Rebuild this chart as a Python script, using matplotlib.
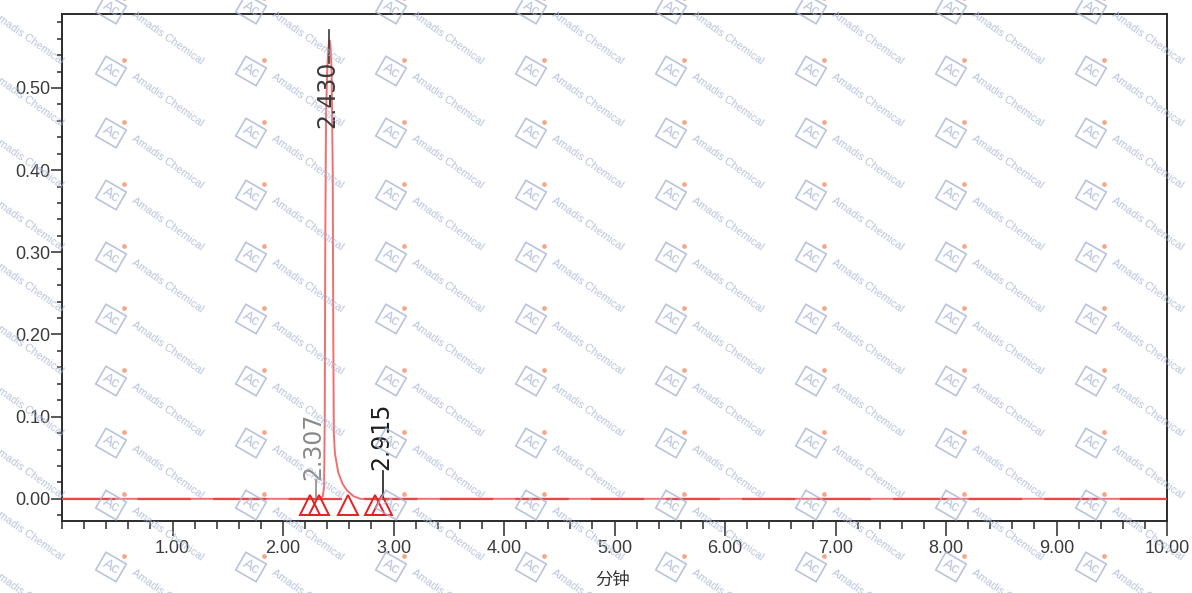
import matplotlib
matplotlib.use("Agg")
import matplotlib.pyplot as plt
from matplotlib.lines import Line2D
from matplotlib.ticker import MultipleLocator, FormatStrFormatter

## chromatogram trace (minutes, AU)
trace_t = [0.00, 2.30, 2.33, 2.36, 2.372, 2.378, 2.382, 2.39, 2.40, 2.41, 2.42,
           2.43, 2.44, 2.45, 2.455, 2.46, 2.47, 2.50, 2.54, 2.58, 2.64, 2.70, 10.00]
trace_v = [0.000, 0.000, 0.000, 0.003, 0.015, 0.100, 0.300, 0.470, 0.520, 0.548, 0.558,
           0.552, 0.520, 0.400, 0.200, 0.080, 0.055, 0.032, 0.018, 0.010, 0.003, 0.000, 0.000]

## integration markers
marker_t = [2.247, 2.322, 2.588, 2.835, 2.899]

## peak labels
peak_names = ["2.307", "2.430", "2.915"]
peak_colors = ["#8a8a8a", "#3a3a3a", "#1e1e1e"]

W, H = 1192, 593
fig = plt.figure(figsize=(W / 100, H / 100), dpi=100)
ax = fig.add_axes([62 / W, 1 - 521 / H, (1167 - 62) / W, (521 - 14) / H])

ax.plot(trace_t, trace_v, color="#f07070", lw=1.4, zorder=2)
ax.plot([0, 10], [0, 0], color="#e24a4a", lw=1.6, linestyle=(0, (24, 10)), zorder=3)
ax.plot(marker_t, [-0.0075] * len(marker_t), linestyle="none", marker="^", ms=15,
        mfc="none", mec="#e42020", mew=1.4, zorder=4)

# label placement: text bottom, line bottom, line top
lab_pos = {"2.307": (0.023, 0.002, 0.023), "2.430": (0.451, 0.530, 0.571),
           "2.915": (0.035, 0.002, 0.034)}
for name, col in zip(peak_names, peak_colors):
    rt = float(name)
    tb, l0, l1 = lab_pos[name]
    ax.text(rt - 0.03, tb, name, rotation=90, ha="center", va="bottom",
            fontsize=17, color=col, family="DejaVu Sans", zorder=5)
    ax.plot([rt - 0.01, rt - 0.01], [l0, l1], color=col, lw=1.2, zorder=5)

ax.set_xlim(0, 10)
ax.set_ylim(-0.027, 0.59)
ax.xaxis.set_major_locator(MultipleLocator(1))
ax.xaxis.set_minor_locator(MultipleLocator(0.2))
ax.yaxis.set_major_locator(MultipleLocator(0.1))
ax.yaxis.set_minor_locator(MultipleLocator(0.02))
ax.xaxis.set_major_formatter(FormatStrFormatter("%.2f"))
ax.yaxis.set_major_formatter(FormatStrFormatter("%.2f"))
ax.set_xticks([1, 2, 3, 4, 5, 6, 7, 8, 9, 10])

for s in ax.spines.values():
    s.set_linewidth(1.4)
    s.set_color("#2b2b2b")
ax.tick_params(axis="x", which="major", direction="out", length=10.5, width=1.1,
               pad=3.5, labelsize=13, labelcolor="#3a3a3a", color="#2b2b2b")
ax.tick_params(axis="x", which="minor", direction="out", length=5.8, width=1.1, color="#2b2b2b")
ax.tick_params(axis="y", which="major", direction="out", length=8, width=1.1,
               pad=0.5, labelsize=13, labelcolor="#3a3a3a", color="#2b2b2b")
ax.tick_params(axis="y", which="minor", direction="out", length=3.6, width=1.1, color="#2b2b2b")
for lab in ax.get_xticklabels() + ax.get_yticklabels():
    lab.set_family("Liberation Sans")

fig.text(613 / W, 1 - 580 / H, "分钟", ha="center", va="center", fontsize=12.5,
         family=["Noto Sans CJK SC", "DejaVu Sans"], color="#333333")
fig.text(-0.003, 1 - 260 / H, "AU", rotation=90, ha="center", va="center",
         fontsize=13, family="Liberation Sans", color="#444444")

## watermark grid
wm_col = "#a9b5d3"
for cx in range(-40, 1200, 140):
    for ry in range(-5, 600, 62):
        ix, iy = cx + 11, ry + 14
        fig.text(ix / W, 1 - iy / H, "Ac", rotation=-30, ha="center", va="center",
                 fontsize=10.5, color=wm_col, family="Liberation Sans", alpha=0.8,
                 bbox=dict(boxstyle="square,pad=0.22", fc="none", ec=wm_col, lw=1.2, alpha=0.8),
                 zorder=10)
        fig.add_artist(Line2D([(ix + 13) / W], [1 - (iy - 11) / H], marker="o", ms=2.4,
                              color="#f2a27e", alpha=0.9, transform=fig.transFigure, zorder=10))
        fig.text((ix + 22) / W, 1 - (iy + 5) / H, "Amadis Chemical", rotation=-35,
                 rotation_mode="anchor", ha="left", va="center", fontsize=7.8,
                 color=wm_col, family="Liberation Sans", alpha=0.8, zorder=10)

fig.savefig("out.png", dpi=100)
